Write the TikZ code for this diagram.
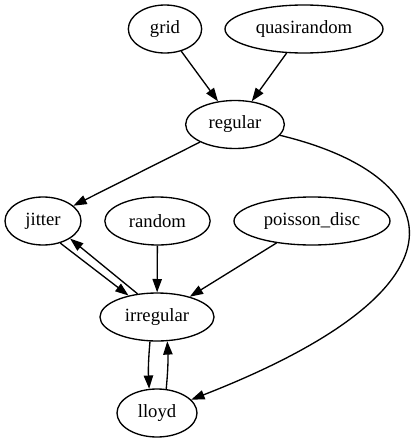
\documentclass[tikz,border=0pt]{standalone}
\usepackage{fontspec}
\setmainfont{Liberation Serif}
\usetikzlibrary{arrows.meta,shapes.geometric}
\tikzset{
  vtx/.style={draw,ellipse,line width=1pt,inner sep=0pt,minimum height=36pt,
    font=\fontsize{14}{16}\selectfont},
  edge/.style={line width=1pt,-{Triangle[length=10pt,width=7pt]}}
}

\begin{document}
\begin{tikzpicture}[x=.75pt,y=-.75pt]
\useasboundingbox (0,0) rectangle (417,443);

\node[vtx,minimum width=55pt] (grid) at (165,29) {grid};
\node[vtx,minimum width=118.5pt] (quasirandom) at (304,29) {quasirandom};
\node[vtx,minimum width=74pt] (regular) at (235,124.5) {regular};
\node[vtx,minimum width=57pt] (jitter) at (43,221) {jitter};
\node[vtx,minimum width=79pt] (random) at (157.5,221) {random};
\node[vtx,minimum width=117pt] (poissondisc) at (312,221) {poisson\_disc};
\node[vtx,minimum width=85.5pt] (irregular) at (157,317) {irregular};
\node[vtx,minimum width=60pt] (lloyd) at (157,413) {lloyd};

\draw[edge] (grid) -- (regular);
\draw[edge] (quasirandom) -- (regular);
\draw[edge] (regular) -- (jitter);
\draw[edge] (regular) .. controls (445,175) and (485,285) .. (lloyd);

\draw[edge] (jitter.-52) -- (irregular.143);
\draw[edge] (irregular.130) -- (jitter.-33);
\draw[edge] (random) -- (irregular);
\draw[edge] (poissondisc) -- (irregular);

\draw[edge] (irregular.-106) to[bend right=4] (lloyd.108);
\draw[edge] (lloyd.69) to[bend right=4] (irregular.-67);

\end{tikzpicture}
\end{document}
